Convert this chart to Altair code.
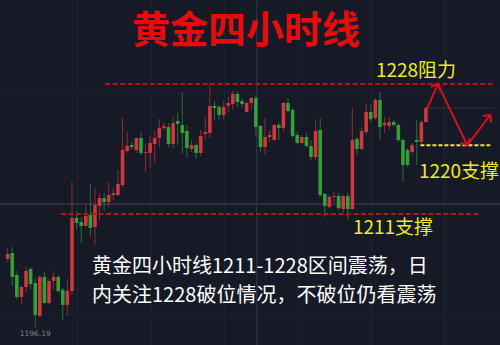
import math
import altair as alt
import pandas as pd

# ---- 4-hour gold candles (red = rising, green = falling) ----
opens = [1205.12, 1205.91, 1203.03, 1200.15, 1201.46, 1203.81, 1201.98, 1197.67, 1202.77, 1199.37,
         1202.25, 1202.77, 1201.07, 1199.11, 1200.94, 1210.49, 1209.96, 1209.44, 1210.88, 1209.31,
         1212.05, 1213.10, 1212.58, 1213.49, 1213.49, 1214.80, 1219.25, 1220.03, 1219.38, 1220.95,
         1218.99, 1218.99, 1220.16, 1220.95, 1222.26, 1222.39, 1220.16, 1223.17, 1222.65, 1221.86,
         1219.51, 1220.03, 1218.99, 1221.47, 1221.60, 1225.14, 1225.00, 1223.96, 1225.14, 1225.40,
         1226.70, 1225.79, 1224.35, 1225.53, 1226.18, 1222.52, 1219.77, 1221.08, 1220.69, 1222.65,
         1222.26, 1225.53, 1224.61, 1221.34, 1220.30, 1221.08, 1219.90, 1218.46, 1221.99, 1213.62,
         1211.92, 1213.23, 1213.36, 1211.66, 1213.36, 1211.66, 1220.82, 1219.51, 1221.73, 1224.35,
         1223.57, 1225.92, 1222.65, 1222.52, 1223.04, 1222.65, 1220.69, 1219.38, 1219.12, 1220.69,
         1220.43, 1223.04]
highs = [1206.56, 1206.69, 1203.55, 1201.59, 1204.21, 1204.08, 1202.64, 1203.03, 1203.42, 1202.51,
         1203.55, 1203.03, 1201.33, 1202.51, 1215.19, 1211.40, 1210.62, 1212.32, 1214.93, 1214.41,
         1213.76, 1213.76, 1215.19, 1214.54, 1216.76, 1223.57, 1221.73, 1220.43, 1221.08, 1221.73,
         1220.03, 1221.34, 1221.99, 1223.43, 1223.04, 1222.91, 1223.70, 1224.22, 1226.84, 1222.65,
         1220.69, 1220.30, 1221.99, 1223.70, 1228.14, 1225.79, 1225.27, 1225.79, 1226.31, 1227.10,
         1226.97, 1226.18, 1225.66, 1226.31, 1226.57, 1222.65, 1223.57, 1221.99, 1222.78, 1223.04,
         1225.66, 1226.18, 1224.87, 1221.73, 1221.34, 1221.60, 1220.69, 1223.30, 1223.57, 1213.76,
         1213.49, 1213.89, 1213.76, 1213.49, 1213.76, 1224.87, 1221.08, 1222.39, 1225.53, 1225.27,
         1226.18, 1226.97, 1223.70, 1223.70, 1223.30, 1222.91, 1220.95, 1219.64, 1220.30, 1223.30,
         1223.30, 1225.00]
lows = [1204.73, 1201.59, 1199.89, 1199.24, 1200.81, 1201.20, 1196.19, 1197.54, 1199.24, 1199.24,
        1201.07, 1200.68, 1197.14, 1197.80, 1200.41, 1209.05, 1207.22, 1209.31, 1208.00, 1206.95,
        1210.22, 1211.53, 1211.92, 1212.84, 1213.36, 1214.54, 1218.99, 1219.51, 1218.99, 1218.73,
        1216.50, 1217.16, 1217.68, 1219.77, 1221.99, 1219.77, 1219.64, 1220.03, 1218.86, 1218.33,
        1219.12, 1218.20, 1218.60, 1220.69, 1220.95, 1223.30, 1223.30, 1223.30, 1224.35, 1224.61,
        1225.00, 1225.00, 1224.22, 1224.61, 1221.34, 1219.12, 1218.73, 1220.43, 1220.56, 1220.69,
        1221.73, 1224.22, 1220.95, 1220.16, 1220.16, 1219.77, 1218.07, 1218.07, 1213.23, 1210.62,
        1211.79, 1212.45, 1211.53, 1211.14, 1210.22, 1211.53, 1218.73, 1219.38, 1221.34, 1223.04,
        1223.30, 1220.69, 1221.60, 1221.99, 1222.39, 1220.43, 1215.19, 1217.16, 1218.73, 1217.42,
        1220.16, 1222.91]
closes = [1205.78, 1202.77, 1200.15, 1201.46, 1203.55, 1201.85, 1197.80, 1202.77, 1199.37, 1202.25,
          1202.77, 1200.94, 1199.11, 1200.94, 1210.49, 1209.83, 1209.44, 1210.75, 1209.18, 1212.19,
          1213.10, 1212.58, 1213.49, 1213.76, 1214.93, 1219.38, 1219.90, 1219.77, 1220.95, 1218.99,
          1219.12, 1220.30, 1220.95, 1222.26, 1222.52, 1220.16, 1222.91, 1222.78, 1221.60, 1219.64,
          1220.03, 1218.99, 1221.21, 1221.73, 1225.14, 1224.87, 1223.96, 1225.00, 1225.53, 1226.70,
          1225.66, 1225.40, 1225.53, 1226.18, 1222.39, 1219.77, 1221.08, 1221.34, 1222.65, 1222.26,
          1225.53, 1224.48, 1221.21, 1220.30, 1221.08, 1219.90, 1218.46, 1221.86, 1213.49, 1212.05,
          1213.23, 1213.36, 1211.79, 1213.36, 1211.66, 1220.69, 1219.51, 1221.86, 1224.35, 1223.43,
          1225.92, 1222.39, 1222.91, 1223.04, 1222.65, 1220.69, 1217.42, 1217.42, 1220.03, 1220.43,
          1223.04, 1224.87]

# ---- analyst levels and projected path ----
resist_level = 1228
support_low = 1211
support_mid = 1220
level_prices = [resist_level, support_low]
level_start = [22.2, 12.6]
level_end = [107.0, 103.4]
mid_start, mid_end = 90.8, 106.0
path_idx = [92.3, 94.6, 101.0, 106.0]
path_price = [1224.87, resist_level, support_mid, 1223.96]

# grid / crosshair
grid_idx = [16.2, 32.2, 48.2, 64.2, 80.1, 96.0]
grid_price = [1226.84, 1197.80]
cross_idx = 55.2
cross_price = 1212.3

title_text = "黄金四小时线"
note_lines = ["黄金四小时线1211-1228区间震荡，日", "内关注1228破位情况，不破位仍看震荡"]
resist_text = "1228阻力"
mid_text = "1220支撑"
low_text = "1211支撑"

BG = "#161a26"
UP = "#dc3a40"
DOWN = "#36a838"
ARROW = "#d4111a"
YELLOW = "#eeec22"
CJK = "Noto Sans CJK SC"

X_DOMAIN = [0.424, 107.03]
Y_DOMAIN = [1193.87, 1239.0]
W, H = 500, 345
xs = alt.Scale(domain=X_DOMAIN, nice=False, zero=False)
ys = alt.Scale(domain=Y_DOMAIN, nice=False, zero=False)


def X(field):
    return alt.X(field, type="quantitative", scale=xs, axis=None)


def Y(field):
    return alt.Y(field, type="quantitative", scale=ys, axis=None)


n = len(opens)
candles = pd.DataFrame({
    "idx": list(range(1, n + 1)),
    "open": opens, "high": highs, "low": lows, "close": closes,
})
candles["dir"] = ["up" if c >= o else "down" for o, c in zip(opens, closes)]
dir_color = alt.Color("dir:N", scale=alt.Scale(domain=["up", "down"], range=[UP, DOWN]), legend=None)

# grid lines
vgrid = alt.Chart(pd.DataFrame({"g": grid_idx})).mark_rule(color="#1f2432", strokeWidth=1).encode(x=X("g"))
hgrid = alt.Chart(pd.DataFrame({"g": grid_price})).mark_rule(color="#1f2432", strokeWidth=1).encode(y=Y("g"))
vcross = alt.Chart(pd.DataFrame({"g": [cross_idx]})).mark_rule(color="#2a3040", strokeWidth=1.5).encode(x=X("g"))
hcross = alt.Chart(pd.DataFrame({"g": [cross_price]})).mark_rule(color="#2a3040", strokeWidth=2).encode(y=Y("g"))
last_line = alt.Chart(pd.DataFrame({"s": [n], "e": [X_DOMAIN[1]], "p": [closes[-1]]})).mark_rule(
    color="#2a3040", strokeWidth=1).encode(x=X("s"), x2="e", y=Y("p"))

wicks = alt.Chart(candles).mark_rule(strokeWidth=1, opacity=0.6).encode(
    x=X("idx"), y=Y("low"), y2="high", color=dir_color)
bodies = alt.Chart(candles).mark_bar(size=3.6, minBandSize=1.2, opacity=0.92).encode(
    x=X("idx"), y=Y("open"), y2="close", color=dir_color)

levels = alt.Chart(pd.DataFrame({"p": level_prices, "s": level_start, "e": level_end})).mark_rule(
    color="#be1016", strokeWidth=2, strokeDash=[5, 2.5]).encode(x=X("s"), x2="e", y=Y("p"))
mid = alt.Chart(pd.DataFrame({"p": [support_mid], "s": [mid_start], "e": [mid_end]})).mark_rule(
    color=YELLOW, strokeWidth=2, strokeDash=[4, 2]).encode(x=X("s"), x2="e", y=Y("p"))

path_df = pd.DataFrame({"idx": path_idx, "price": path_price, "step": list(range(len(path_idx)))})
path = alt.Chart(path_df).mark_line(color=ARROW, strokeWidth=2).encode(
    x=X("idx"), y=Y("price"), order="step:O")

# arrowheads at the end of each leg, rotated along the leg's on-screen direction
px_per_idx = W / (X_DOMAIN[1] - X_DOMAIN[0])
px_per_price = H / (Y_DOMAIN[1] - Y_DOMAIN[0])
heads = []
for k in range(1, len(path_idx)):
    dx = (path_idx[k] - path_idx[k - 1]) * px_per_idx
    dy = -(path_price[k] - path_price[k - 1]) * px_per_price
    ang = math.degrees(math.atan2(dx, -dy)) % 360
    heads.append({"idx": path_idx[k], "price": path_price[k], "ang": ang})
arrowheads = alt.Chart(pd.DataFrame(heads)).mark_point(
    shape="M-1,1L0,0L1,1", filled=False, size=110, strokeWidth=2, color=ARROW, opacity=1
).encode(x=X("idx"), y=Y("price"), angle=alt.Angle("ang:Q", scale=None))

# text
title = alt.Chart(pd.DataFrame({"t": [title_text]})).mark_text(
    font=CJK, fontSize=38, fontWeight="bold", color="#e60c0c", align="center", baseline="middle"
).encode(x=alt.value(246), y=alt.value(32), text="t:N")


def note_line(txt, y):
    return alt.Chart(pd.DataFrame({"t": [txt]})).mark_text(
        font=CJK, fontSize=20, color="#ffffff", align="left", baseline="middle"
    ).encode(x=alt.value(92), y=alt.value(y), text="t:N")


note1 = note_line(note_lines[0], 267)
note2 = note_line(note_lines[1], 296)


def ylabel(txt, x, y):
    return alt.Chart(pd.DataFrame({"t": [txt]})).mark_text(
        font=CJK, fontSize=19, color=YELLOW, align="center", baseline="middle"
    ).encode(x=alt.value(x), y=alt.value(y), text="t:N")


lab_r = ylabel(resist_text, 416, 71)
lab_m = ylabel(mid_text, 459, 172)
lab_l = ylabel(low_text, 393, 228)

low_i = lows.index(min(lows))
low_lab = alt.Chart(pd.DataFrame({"idx": [low_i + 1], "p": [lows[low_i]]})).mark_text(
    font="DejaVu Sans", fontSize=7.5, color="#80858f", align="center", baseline="middle", dy=7
).encode(x=X("idx"), y=Y("p"), text=alt.Text("p:Q", format=".2f"))

chart = alt.layer(
    vgrid, hgrid, vcross, hcross, last_line,
    wicks, bodies, levels, mid, path, arrowheads,
    title, note1, note2, lab_r, lab_m, lab_l, low_lab,
).properties(
    width=W, height=H, background=BG, padding=0,
    autosize=alt.AutoSizeParams(type="none"),
).configure_view(stroke=None)

chart.save("out.html", embed_options={"renderer": "svg", "actions": False})
